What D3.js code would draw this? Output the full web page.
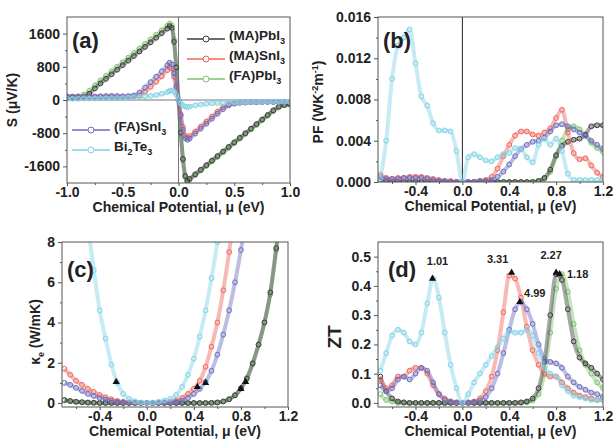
<!DOCTYPE html>
<html>
<head>
<meta charset="utf-8">
<script src="https://cdn.jsdelivr.net/npm/d3@7"></script>
<style>
  body { margin: 0; background: #fff; }
  svg text { font-family: "Liberation Sans", Arial, sans-serif; font-weight: bold; fill: #222; }
</style>
</head>
<body>
<div id="chart"></div>
<script>
// ---- panel (a): Seebeck coefficient, uV/K ----
const muA = [-1.0, -0.95, -0.9, -0.85, -0.8, -0.75, -0.7, -0.65, -0.6, -0.55, -0.5, -0.45, -0.4, -0.35, -0.3, -0.25, -0.2, -0.15, -0.1, -0.08, -0.06, -0.04, -0.02, 0,
  0.02, 0.04, 0.06, 0.08, 0.1, 0.15, 0.2, 0.25, 0.3, 0.35, 0.4, 0.45, 0.5, 0.55, 0.6, 0.65, 0.7, 0.75, 0.8, 0.85, 0.9, 0.95, 1.0];
const sMAPbI3 = [50, 55, 60, 80, 150, 280, 400, 510, 620, 730, 840, 950, 1060, 1170, 1280, 1390, 1500, 1610, 1720, 1780, 1740, 1400, 780, 0,
  -780, -1420, -1830, -1950, -1900, -1790, -1680, -1570, -1460, -1350, -1240, -1130, -1020, -910, -800, -690, -580, -470, -360, -250, -160, -120, -100];
const sMASnI3 = [80, 75, 70, 70, 70, 70, 70, 70, 70, 70, 70, 70, 80, 110, 200, 320, 440, 570, 720, 790, 760, 560, 300, 0,
  -350, -650, -860, -900, -870, -760, -640, -520, -400, -280, -170, -100, -70, -60, -60, -55, -55, -50, -50, -50, -50, -50, -50];
const sFAPbI3 = [70, 75, 90, 130, 220, 350, 470, 580, 690, 800, 910, 1020, 1130, 1240, 1350, 1460, 1570, 1680, 1790, 1840, 1800, 1450, 800, 0,
  -800, -1450, -1850, -1980, -1920, -1810, -1700, -1590, -1480, -1370, -1260, -1150, -1040, -930, -820, -710, -600, -490, -380, -270, -180, -130, -110];
const sFASnI3 = [90, 85, 80, 80, 80, 85, 90, 95, 100, 95, 90, 95, 110, 180, 300, 430, 560, 690, 840, 900, 860, 640, 340, 0,
  -380, -720, -920, -960, -930, -810, -690, -570, -450, -330, -220, -130, -90, -70, -60, -55, -55, -50, -50, -50, -50, -50, -50];
const sBi2Te3 = [30, 30, 30, 35, 35, 35, 40, 40, 40, 45, 50, 60, 70, 80, 90, 100, 120, 150, 190, 220, 230, 200, 120, 0,
  -80, -130, -160, -170, -160, -130, -110, -90, -80, -75, -70, -65, -60, -55, -50, -50, -45, -45, -45, -40, -40, -40, -40];

// ---- panels (b)-(d) share one chemical potential grid ----
const mu = [-0.70, -0.65, -0.60, -0.55, -0.50, -0.45, -0.40, -0.35, -0.30, -0.25, -0.20, -0.15, -0.10, -0.05, 0.00,
  0.05, 0.10, 0.15, 0.20, 0.25, 0.30, 0.35, 0.40, 0.45, 0.50, 0.55, 0.60, 0.65, 0.70, 0.75, 0.80, 0.85, 0.90, 0.95, 1.00, 1.05, 1.10, 1.15, 1.20];

// (b) power factor
const pfMAPbI3 = [0.0002, 0.0001, 0, 0, 0, 0, 0, 0, 0, 0, 0, 0, 0, 0, 0,
  0, 0, 0, 0, 0, 0, 0, 0, 0, 0, 0, 0, 0.0001, 0.0004, 0.0012, 0.0026, 0.0035, 0.0039, 0.0041, 0.0042, 0.0046, 0.0054, 0.0055, 0.0055];
const pfMASnI3 = [0.0007, 0.0004, 0.0003, 0.0004, 0.0004, 0.0005, 0.0005, 0.0005, 0.0004, 0.0003, 0.0002, 0.0001, 0.0001, 0, 0,
  0, 0, 0.0001, 0.0002, 0.0005, 0.0013, 0.0025, 0.0036, 0.0045, 0.0049, 0.0049, 0.0046, 0.0045, 0.0048, 0.0052, 0.0062, 0.0070, 0.0048, 0.0028, 0.0022, 0.0023, 0.0016, 0.0009, 0.0005];
const pfFAPbI3 = [0.0002, 0.0001, 0, 0, 0, 0, 0, 0, 0, 0, 0, 0, 0, 0, 0,
  0, 0, 0, 0, 0, 0, 0, 0, 0, 0, 0, 0, 0.0001, 0.0003, 0.0010, 0.0025, 0.0040, 0.0051, 0.0054, 0.0051, 0.0045, 0.0038, 0.0033, 0.0029];
const pfFASnI3 = [0.0005, 0.0003, 0.0003, 0.0003, 0.0004, 0.0004, 0.0004, 0.0004, 0.0003, 0.0002, 0.0001, 0.0001, 0, 0, 0,
  0, 0, 0.0001, 0.0001, 0.0002, 0.0005, 0.0010, 0.0017, 0.0025, 0.0032, 0.0036, 0.0039, 0.0040, 0.0043, 0.0049, 0.0055, 0.0056, 0.0054, 0.0051, 0.0048, 0.0045, 0.0040, 0.0036, 0.0032];
const pfBi2Te3 = [0.0003, 0.0040, 0.0100, 0.0132, 0.0140, 0.0148, 0.0115, 0.0083, 0.0074, 0.0057, 0.0050, 0.0050, 0.0049, 0.0030, 0,
  0.0024, 0.0027, 0.0024, 0.0021, 0.0020, 0.0024, 0.0027, 0.0028, 0.0033, 0.0032, 0.0024, 0.0019, 0.0036, 0.0042, 0.0036, 0.0042, 0.0030, 0.0008, 0.0002, 0.0002, 0.0002, 0.0002, 0.0002, 0.0002];

// (c) electronic thermal conductivity
const keMAPbI3 = [0.15, 0.10, 0.06, 0.04, 0.02, 0.01, 0, 0, 0, 0, 0, 0, 0, 0, 0,
  0, 0, 0, 0, 0, 0, 0, 0, 0, 0, 0.005, 0.02, 0.07, 0.18, 0.38, 0.72, 1.2, 1.95, 2.9, 4.0, 5.5, 7.7, 10.2, 13];
const keMASnI3 = [1.7, 1.4, 1.1, 0.9, 0.7, 0.55, 0.4, 0.28, 0.18, 0.1, 0.06, 0.03, 0.02, 0.01, 0,
  0, 0.01, 0.02, 0.05, 0.12, 0.25, 0.45, 0.7, 1.1, 1.8, 2.8, 4.0, 5.6, 7.5, 9.8, 12, 15, 18, 21, 24, 27, 30, 33, 36];
const keFAPbI3 = [0.12, 0.08, 0.05, 0.03, 0.02, 0.01, 0, 0, 0, 0, 0, 0, 0, 0, 0,
  0, 0, 0, 0, 0, 0, 0, 0, 0, 0, 0.01, 0.03, 0.08, 0.2, 0.4, 0.75, 1.25, 2.0, 2.9, 4.0, 5.4, 7.6, 10, 13];
const keFASnI3 = [1.0, 0.9, 0.75, 0.6, 0.45, 0.35, 0.25, 0.17, 0.1, 0.06, 0.03, 0.02, 0.01, 0, 0,
  0, 0, 0.01, 0.02, 0.05, 0.12, 0.25, 0.45, 0.7, 1.05, 1.6, 2.4, 3.4, 4.6, 6.0, 7.6, 9.5, 11.5, 14, 17, 20, 23, 26, 29];
const keBi2Te3 = [20, 16.5, 13.5, 11, 8.8, 6.6, 4.6, 3.2, 1.9, 1.0, 0.45, 0.2, 0.08, 0.02, 0,
  0.02, 0.06, 0.12, 0.2, 0.4, 0.8, 1.4, 2.2, 3.3, 4.6, 6.2, 8.0, 10.5, 13, 16, 19, 22, 25, 28, 31, 34, 37, 40, 43];

// (d) figure of merit
const ztMAPbI3 = [0.09, 0.04, 0.015, 0.005, 0.002, 0, 0, 0, 0, 0, 0, 0, 0, 0, 0,
  0, 0, 0, 0, 0, 0, 0, 0, 0, 0.002, 0.005, 0.015, 0.05, 0.14, 0.30, 0.44, 0.42, 0.32, 0.21, 0.155, 0.135, 0.12, 0.10, 0.08];
const ztMASnI3 = [0.08, 0.05, 0.06, 0.09, 0.09, 0.11, 0.12, 0.12, 0.10, 0.06, 0.03, 0.015, 0.005, 0.002, 0,
  0.002, 0.005, 0.015, 0.04, 0.09, 0.18, 0.31, 0.435, 0.425, 0.36, 0.26, 0.18, 0.13, 0.10, 0.09, 0.09, 0.07, 0.05, 0.035, 0.025, 0.02, 0.015, 0.01, 0.01];
const ztFAPbI3 = [0.03, 0.01, 0.005, 0, 0, 0, 0, 0, 0, 0, 0, 0, 0, 0, 0,
  0, 0, 0, 0, 0, 0, 0, 0, 0, 0, 0.002, 0.008, 0.03, 0.10, 0.24, 0.39, 0.44, 0.38, 0.27, 0.18, 0.13, 0.10, 0.07, 0.05];
const ztFASnI3 = [0.06, 0.04, 0.05, 0.08, 0.09, 0.08, 0.10, 0.12, 0.11, 0.07, 0.03, 0.01, 0.004, 0.001, 0,
  0.001, 0.003, 0.008, 0.02, 0.05, 0.10, 0.17, 0.25, 0.32, 0.345, 0.32, 0.27, 0.20, 0.15, 0.14, 0.135, 0.12, 0.09, 0.07, 0.055, 0.045, 0.035, 0.03, 0.02];
const ztBi2Te3 = [0.11, 0.17, 0.23, 0.25, 0.24, 0.21, 0.20, 0.24, 0.34, 0.425, 0.36, 0.24, 0.13, 0.05, 0,
  0.03, 0.07, 0.10, 0.13, 0.16, 0.19, 0.22, 0.245, 0.24, 0.24, 0.25, 0.23, 0.17, 0.12, 0.10, 0.09, 0.06, 0.04, 0.025, 0.02, 0.015, 0.01, 0.01, 0.01];

// optimum points (triangles): order MA-PbI3, MA-SnI3, FA-PbI3, FA-SnI3, Bi2Te3
const peakMuC  = [0.84, 0.43, 0.80, 0.50, -0.26];
const peakKe   = [1.05, 0.80, 0.70, 1.00, 1.05];
const peakMuD  = [0.80, 0.42, 0.83, 0.49, -0.255];
const peakZT   = [0.445, 0.445, 0.44, 0.345, 0.425];
const peakText = ['2.27', '3.31', '1.18', '4.99', '1.01'];

const names  = ['(MA)PbI3', '(MA)SnI3', '(FA)PbI3', '(FA)SnI3', 'Bi2Te3'];
const colors = ['#3b3b3b', '#f0645c', '#7cc46c', '#6a6cbf', '#80d2e6'];
const drawOrder = [2, 0, 1, 3, 4];

const W = 613, H = 441;
const svg = d3.select('#chart').append('svg').attr('width', W).attr('height', H);
svg.append('rect').attr('width', W).attr('height', H).attr('fill', '#fff');

const hyphen = f => v => f(v).replace('\u2212', '-');

function drawPanel(p) {
  const x = d3.scaleLinear().domain(p.xDomain).range([p.left, p.right]);
  const y = d3.scaleLinear().domain(p.yDomain).range([p.bottom, p.top]);
  const g = svg.append('g');
  const clipId = 'clip-' + p.id;
  g.append('clipPath').attr('id', clipId).append('rect')
    .attr('x', p.left).attr('y', p.top).attr('width', p.right - p.left).attr('height', p.bottom - p.top);

  // guide lines
  if (p.zeroV) {
    g.append('line').attr('x1', x(0)).attr('x2', x(0)).attr('y1', p.top).attr('y2', p.bottom)
      .attr('stroke', p.zeroV).attr('stroke-width', 1);
  }
  if (p.zeroH) {
    g.append('line').attr('x1', p.left).attr('x2', p.right).attr('y1', y(0)).attr('y2', y(0))
      .attr('stroke', p.zeroH).attr('stroke-width', 1);
  }

  const plot = g.append('g').attr('clip-path', `url(#${clipId})`);
  const line = d3.line().x(d => x(d[0])).y(d => y(d[1])).curve(d3.curveMonotoneX);
  drawOrder.forEach(i => {
    const pts = p.xs.map((m, k) => [m, p.series[i][k]]);
    plot.append('path').datum(pts).attr('d', line)
      .attr('fill', 'none').attr('stroke', colors[i]).attr('stroke-width', 4).attr('stroke-opacity', 0.45);
    plot.append('g').selectAll('circle').data(pts).join('circle')
      .attr('cx', d => x(d[0])).attr('cy', d => y(d[1])).attr('r', 2.4)
      .attr('fill', 'none').attr('stroke', colors[i]).attr('stroke-width', 1);
  });

  // axes
  const yAxis = g.append('g').attr('transform', `translate(${p.left},0)`)
    .call(d3.axisLeft(y).tickValues(p.yTicks).tickSize(4).tickPadding(3).tickFormat(hyphen(p.yFmt)));
  g.append('g').attr('transform', `translate(${p.left},0)`)
    .call(d3.axisLeft(y).tickValues(p.yMinor).tickSize(2).tickFormat(''));
  const xAxis = g.append('g').attr('transform', `translate(0,${p.bottom})`)
    .call(d3.axisBottom(x).tickValues(p.xTicks).tickSize(3).tickPadding(1).tickFormat(hyphen(p.xFmt)));
  g.append('g').attr('transform', `translate(0,${p.bottom})`)
    .call(d3.axisBottom(x).tickValues(p.xMinor).tickSize(2).tickFormat(''));
  g.selectAll('.domain').remove();
  g.selectAll('.tick line').attr('stroke', '#555');
  yAxis.selectAll('text').style('font-size', '14px');
  xAxis.selectAll('text').style('font-size', '14px');

  g.append('rect').attr('x', p.left).attr('y', p.top)
    .attr('width', p.right - p.left).attr('height', p.bottom - p.top)
    .attr('fill', 'none').attr('stroke', '#555').attr('stroke-width', 1);

  // panel letter
  g.append('text').attr('x', p.left + p.tag[0]).attr('y', p.top + p.tag[1])
    .style('font-size', '22px').text(p.label);

  // x title
  g.append('text').attr('x', (p.left + p.right) / 2).attr('y', p.bottom + 29)
    .attr('text-anchor', 'middle').style('font-size', '14px')
    .text('Chemical Potential, \u03bc (eV)');

  return { g, x, y };
}

// (a)
drawPanel({
  id: 'a', left: 67, right: 290, top: 17, bottom: 183,
  xDomain: [-1, 1], yDomain: [-2000, 2000], xs: muA,
  series: [sMAPbI3, sMASnI3, sFAPbI3, sFASnI3, sBi2Te3],
  xTicks: [-1, -0.5, 0, 0.5, 1], xMinor: [-0.75, -0.25, 0.25, 0.75],
  yTicks: [-1600, -800, 0, 800, 1600], yMinor: [-1200, -400, 400, 1200],
  xFmt: d3.format('.1f'), yFmt: d3.format('d'),
  zeroV: '#777', zeroH: '#777', label: '(a)', tag: [5, 31]
});
svg.append('text').attr('transform', 'translate(17,100) rotate(-90)').attr('text-anchor', 'middle')
  .style('font-size', '14px').text('S (\u03bcV/K)');

// (b)
drawPanel({
  id: 'b', left: 378, right: 603, top: 17, bottom: 182,
  xDomain: [-0.72, 1.2], yDomain: [0, 0.016], xs: mu,
  series: [pfMAPbI3, pfMASnI3, pfFAPbI3, pfFASnI3, pfBi2Te3],
  xTicks: [-0.4, 0, 0.4, 0.8, 1.2], xMinor: [-0.6, -0.2, 0.2, 0.6, 1.0],
  yTicks: [0, 0.004, 0.008, 0.012, 0.016], yMinor: [0.002, 0.006, 0.010, 0.014],
  xFmt: d3.format('.1f'), yFmt: d3.format('.3f'),
  zeroV: '#222', label: '(b)', tag: [5, 31]
});
const pfTitle = svg.append('text').attr('transform', 'translate(323,102) rotate(-90)')
  .attr('text-anchor', 'middle').style('font-size', '14px');
pfTitle.append('tspan').text('PF (WK');
pfTitle.append('tspan').attr('dy', -5).style('font-size', '9px').text('-2');
pfTitle.append('tspan').attr('dy', 5).text('m');
pfTitle.append('tspan').attr('dy', -5).style('font-size', '9px').text('-1');
pfTitle.append('tspan').attr('dy', 5).text(')');

// (c)
const pc = drawPanel({
  id: 'c', left: 62, right: 288, top: 242, bottom: 407,
  xDomain: [-0.72, 1.2], yDomain: [-0.2, 8], xs: mu,
  series: [keMAPbI3, keMASnI3, keFAPbI3, keFASnI3, keBi2Te3],
  xTicks: [-0.4, 0, 0.4, 0.8, 1.2], xMinor: [-0.6, -0.2, 0.2, 0.6, 1.0],
  yTicks: [0, 2, 4, 6, 8], yMinor: [1, 3, 5, 7],
  xFmt: d3.format('.1f'), yFmt: d3.format('d'),
  label: '(c)', tag: [5, 35]
});
pc.g.append('g').selectAll('path').data(peakMuC.map((m, i) => [m, peakKe[i]])).join('path')
  .attr('d', d3.symbol(d3.symbolTriangle, 22))
  .attr('transform', d => `translate(${pc.x(d[0])},${pc.y(d[1])})`).attr('fill', '#111');
const keTitle = svg.append('text').attr('transform', 'translate(40,332) rotate(-90)')
  .attr('text-anchor', 'middle').style('font-size', '14px');
keTitle.append('tspan').text('\u03ba');
keTitle.append('tspan').attr('dy', 4).style('font-size', '9px').text('e');
keTitle.append('tspan').attr('dy', -4).text(' (W/mK)');

// (d)
const pd = drawPanel({
  id: 'd', left: 378, right: 603, top: 242, bottom: 407,
  xDomain: [-0.72, 1.2], yDomain: [-0.014, 0.55], xs: mu,
  series: [ztMAPbI3, ztMASnI3, ztFAPbI3, ztFASnI3, ztBi2Te3],
  xTicks: [-0.4, 0, 0.4, 0.8, 1.2], xMinor: [-0.6, -0.2, 0.2, 0.6, 1.0],
  yTicks: [0, 0.1, 0.2, 0.3, 0.4, 0.5], yMinor: [0.05, 0.15, 0.25, 0.35, 0.45],
  xFmt: d3.format('.1f'), yFmt: d3.format('.1f'),
  label: '(d)', tag: [10, 35]
});
const labelOffset = [[-5, -14], [-14, -10], [18, 4], [15, -5], [5, -14]];
peakMuD.forEach((m, i) => {
  pd.g.append('path').attr('d', d3.symbol(d3.symbolTriangle, 22)())
    .attr('transform', `translate(${pd.x(m)},${pd.y(peakZT[i])})`).attr('fill', '#111');
  pd.g.append('text').attr('x', pd.x(m) + labelOffset[i][0]).attr('y', pd.y(peakZT[i]) + labelOffset[i][1])
    .attr('text-anchor', 'middle').style('font-size', '11px').text(peakText[i]);
});
svg.append('text').attr('transform', 'translate(341,337) rotate(-90)').attr('text-anchor', 'middle')
  .style('font-size', '19px').text('ZT');

// legend in (a)
function legendItem(i, lx, ly) {
  const g = svg.append('g').attr('transform', `translate(${lx},${ly})`);
  g.append('line').attr('x1', 0).attr('x2', 38).attr('stroke', colors[i]).attr('stroke-width', 1.5);
  g.append('circle').attr('cx', 19).attr('r', 3).attr('fill', '#fff').attr('stroke', colors[i]).attr('stroke-width', 1);
  const t = g.append('text').attr('x', 42).attr('y', 5).style('font-size', '13.5px');
  const parts = names[i].split(/(\d)/).filter(s => s.length);
  parts.forEach(s => {
    if (/\d/.test(s)) t.append('tspan').attr('dy', 4).style('font-size', '9px').text(s);
    else t.append('tspan').attr('dy', t.selectAll('tspan').size() ? -4 : 0).text(s);
  });
}
legendItem(0, 187, 39);
legendItem(1, 187, 59);
legendItem(2, 187, 79);
legendItem(3, 72, 130);
legendItem(4, 72, 150);
</script>
</body>
</html>
